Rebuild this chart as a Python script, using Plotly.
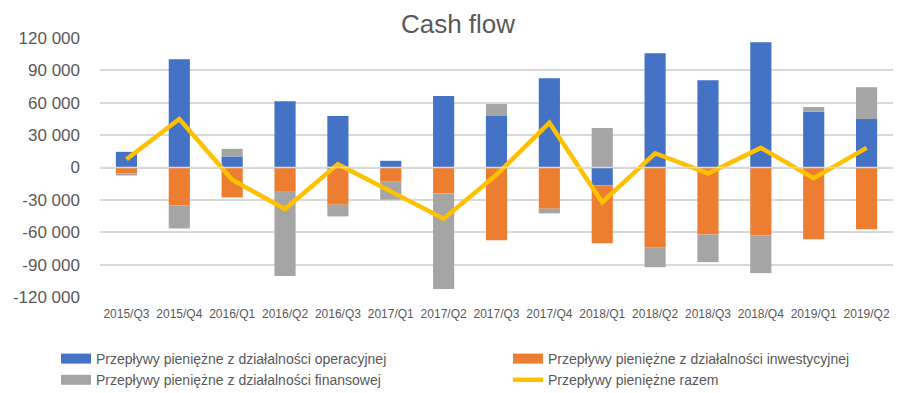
import plotly.graph_objects as go

categories = ["2015/Q3", "2015/Q4", "2016/Q1", "2016/Q2", "2016/Q3", "2017/Q1", "2017/Q2",
              "2017/Q3", "2017/Q4", "2018/Q1", "2018/Q2", "2018/Q3", "2018/Q4", "2019/Q1", "2019/Q2"]
operacyjne = [14500, 100300, 10200, 61500, 47700, 6200, 66200,
              47700, 82800, -16600, 105900, 80900, 116000, 51700, 44900]
inwestycyjne = [-5500, -35000, -27700, -22500, -34500, -13200, -24000,
                -67400, -38200, -53600, -73900, -62200, -62800, -66500, -57200]
finansowe = [-1900, -21500, 7100, -78100, -10800, -16600, -88600,
             11100, -4300, 36600, -18500, -25500, -35100, 4300, 29500]
razem = [7700, 44900, -11400, -38500, 3100, -22500, -47400,
         -6800, 41500, -32300, 13200, -5500, 18200, -9900, 18200]

tick_vals = [-120000, -90000, -60000, -30000, 0, 30000, 60000, 90000, 120000]
tick_text = ["-120 000", "-90 000", "-60 000", "-30 000", "0", "30 000", "60 000", "90 000", "120 000"]

names = ["Przepływy pieniężne z działalności operacyjnej",
         "Przepływy pieniężne z działalności inwestycyjnej",
         "Przepływy pieniężne z działalności finansowej",
         "Przepływy pieniężne razem"]
colors = ["#4472C4", "#ED7D31", "#A5A5A5", "#FFC000"]
legend_ids = ["legend", "legend2", "legend", "legend2"]

fig = go.Figure()
for vals, name, col in zip([operacyjne, inwestycyjne, finansowe], names[:3], colors[:3]):
    fig.add_trace(go.Bar(x=categories, y=vals, name=name, marker_color=col,
                         marker_line_width=0, showlegend=False, legendgroup=name,
                         hoverinfo="x+y+name"))

fig.add_trace(go.Scatter(x=categories, y=razem, name=names[3], mode="lines",
                         line=dict(color=colors[3], width=4.5), showlegend=False,
                         legendgroup=names[3]))

# legend entries (wide swatches like the original)
for name, col, w, lg in zip(names, colors, [10, 10, 10, 4.5], legend_ids):
    fig.add_trace(go.Scatter(x=[None], y=[None], name=name, mode="lines",
                             line=dict(color=col, width=w), legendgroup=name,
                             showlegend=True, hoverinfo="skip", legend=lg))

fig.add_hline(y=0, line_color="#D9D9D9", line_width=1.5, layer="above")

legend_common = dict(orientation="v", xref="container", yref="container",
                     xanchor="left", yanchor="top", tracegroupgap=0,
                     font=dict(size=14, color="#595959"), traceorder="normal",
                     bgcolor="rgba(0,0,0,0)")

fig.update_layout(
    width=916, height=393,
    barmode="relative", bargap=0.6,
    plot_bgcolor="white", paper_bgcolor="white",
    margin=dict(l=100, r=23, t=38, b=96, autoexpand=False),
    font=dict(family="Liberation Sans", color="#595959"),
    title=dict(text="Cash flow", x=0.5, xanchor="center", y=1 - 24 / 393, yanchor="middle",
               font=dict(size=26, color="#595959")),
    xaxis=dict(showgrid=False, showline=False, ticks="", tickfont=dict(size=12),
               ticklabelstandoff=8, automargin=False),
    yaxis=dict(range=[-120000, 120000], tickvals=tick_vals, ticktext=tick_text,
               showgrid=True, gridcolor="#D9D9D9", gridwidth=1.5, zeroline=False,
               tickfont=dict(size=17), ticklabelstandoff=19, automargin=False),
    legend=dict(x=56 / 916, y=1 - 343 / 393, **legend_common),
    legend2=dict(x=508 / 916, y=1 - 343 / 393, **legend_common),
    showlegend=True,
)

html = fig.to_html(full_html=True, config={"displayModeBar": False})
html = html.replace("<body>", '<body style="margin:0;padding:0;">', 1)
with open("out.html", "w", encoding="utf-8") as f:
    f.write(html)
